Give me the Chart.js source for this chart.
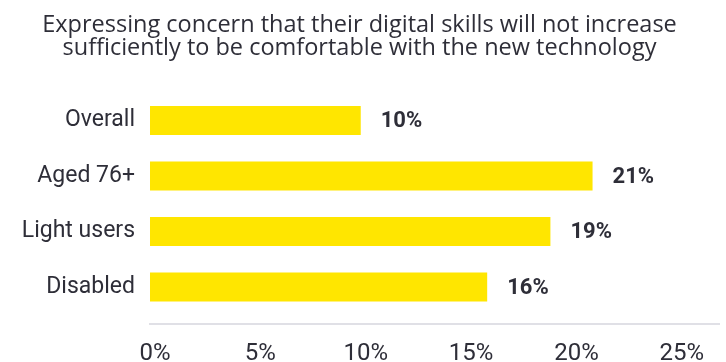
<!DOCTYPE html>
<html>
<head>
<meta charset="utf-8">
<script src="https://cdn.jsdelivr.net/npm/chart.js@4/dist/chart.umd.min.js"></script>
<style>
  html, body { margin: 0; padding: 0; background: #ffffff; }
  #wrap { width: 726px; height: 362px; }
</style>
</head>
<body>
<div id="wrap"><canvas id="chart"></canvas></div>
<script>
// Share of respondents worried their digital skills won't keep up
const titleLines = [
  'Expressing concern that their digital skills will not increase',
  'sufficiently to be comfortable with the new technology'
];
const categories = ['Overall', 'Aged 76+', 'Light users', 'Disabled'];
const concernPct = [10, 21, 19, 16];
const tickValues = [0, 5, 10, 15, 20, 25];

const INK = '#2e2e38';
const YELLOW = '#ffe600';
const FONT = 'Roboto, "Liberation Sans", sans-serif';
const TITLE_FONT = '"Open Sans", "DejaVu Sans", sans-serif';

// Bold percentage written just past the end of each bar
const valueLabels = {
  id: 'valueLabels',
  afterDatasetsDraw(chart) {
    const ctx = chart.ctx;
    const meta = chart.getDatasetMeta(0);
    ctx.save();
    ctx.font = 'bold 22px ' + FONT;
    ctx.fillStyle = INK;
    ctx.textAlign = 'left';
    ctx.textBaseline = 'middle';
    meta.data.forEach((bar, i) => {
      ctx.fillText(concernPct[i] + '%', bar.x + 20, bar.y + 1);
    });
    ctx.restore();
  }
};

new Chart(document.getElementById('chart'), {
  type: 'bar',
  data: {
    labels: categories,
    datasets: [{
      data: concernPct,
      backgroundColor: YELLOW,
      borderWidth: 0,
      barPercentage: 0.52,
      categoryPercentage: 1
    }]
  },
  plugins: [valueLabels],
  options: {
    indexAxis: 'y',
    responsive: true,
    maintainAspectRatio: false,
    animation: false,
    layout: { padding: { left: 0, right: 7, top: 0, bottom: 47.25 } },
    plugins: {
      legend: { display: false },
      tooltip: { enabled: false },
      title: {
        display: true,
        text: titleLines,
        color: INK,
        font: { family: TITLE_FONT, size: 23.5, weight: 'normal', lineHeight: 1.0 },
        padding: { top: 13.3, bottom: 32.45 }
      }
    },
    scales: {
      y: {
        type: 'category',
        offset: true,
        grid: { display: false, drawTicks: false },
        border: { display: false },
        ticks: {
          color: INK,
          padding: 15,
          font: { family: FONT, size: 23, weight: 'normal' }
        },
        afterFit(scale) { scale.width = 150; }
      },
      x: {
        type: 'linear',
        min: 0,
        max: 27,
        position: { y: 3.667 },
        grid: { display: false, drawTicks: false },
        border: { display: true, color: '#e0e0e6', width: 2 },
        afterBuildTicks(scale) {
          scale.ticks = tickValues.map(v => ({ value: v }));
        },
        ticks: {
          color: INK,
          padding: 16,
          labelOffset: 5,
          maxRotation: 0,
          autoSkip: false,
          font: { family: FONT, size: 24, weight: 'normal' },
          callback: v => v + '%'
        }
      }
    }
  }
});
</script>
</body>
</html>
